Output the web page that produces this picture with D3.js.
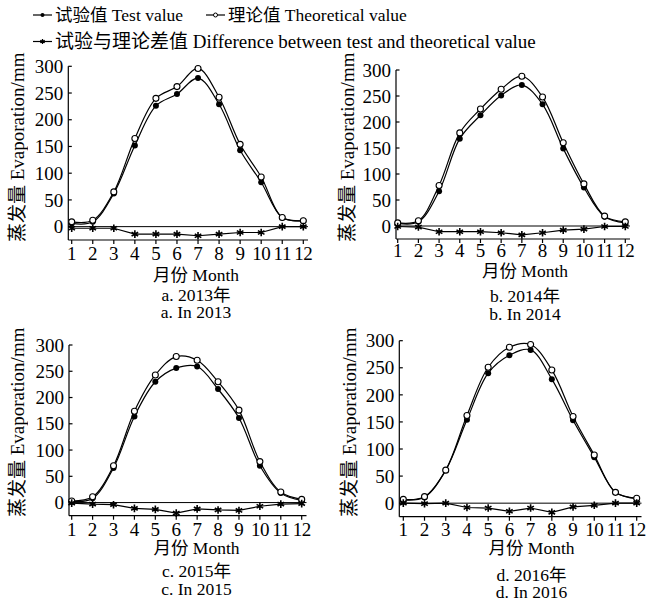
<!DOCTYPE html>
<html><head><meta charset="utf-8">
<script src="https://cdn.jsdelivr.net/npm/d3@7"></script>
<style>
body{margin:0;background:#fff;}
text{font-family:"Liberation Serif","Times New Roman","Noto Sans CJK SC",serif;fill:#000;}
.ylab{opacity:0.99;}
</style></head>
<body><svg id="c" width="646" height="603"></svg>
<script>
const months = [1,2,3,4,5,6,7,8,9,10,11,12];
const yTicks = [0,50,100,150,200,250,300];

const test2013 = [6, 9, 62, 152, 226, 248, 278, 229, 143, 83, 17, 11];
const theo2013 = [9, 12, 65, 165, 240, 262, 296, 242, 154, 93, 17, 11];
const diff2013 = [-3, -3, -3, -14, -14, -14, -17, -14, -11, -11, 0, 0];

const test2014 = [5, 8, 67, 168, 213, 251, 271, 234, 149, 74, 18, 6];
const theo2014 = [6, 10, 78, 179, 225, 263, 288, 248, 160, 81, 19, 8];
const diff2014 = [-1, -2, -11, -11, -11, -13, -17, -13, -8, -6, -1, -1];

const test2015 = [2, 8, 66, 164, 230, 256, 259, 216, 161, 70, 18, 4];
const theo2015 = [3, 11, 70, 174, 243, 278, 271, 230, 176, 78, 20, 6];
const diff2015 = [-1, -3, -4, -11, -13, -20, -12, -14, -15, -7, -3, -2];

const test2016 = [6, 11, 61, 154, 240, 273, 283, 229, 153, 85, 20, 8];
const theo2016 = [7, 12, 61, 162, 251, 288, 293, 246, 160, 89, 20, 9];
const diff2016 = [0, -1, 0, -8, -9, -15, -9, -17, -7, -4, 0, 0];

const captions1 = ["a. 2013年","b. 2014年","c. 2015年","d. 2016年"];
const captions2 = ["a. In 2013","b. In 2014","c. In 2015","d. In 2016"];
const legendLabels = ["试验值 Test value","理论值 Theoretical value","试验与理论差值 Difference between test and theoretical value"];
const yLabel = "蒸发量 Evaporation/mm";
const xLabel = "月份 Month";

const panels = [
  {test:test2013, theo:theo2013, diff:diff2013, left:68.3, right:308, x1:71.7, x12:303.3, top:66.3, bottom:240, cx:196, ylx:17, yly:242, tb:260, t1:281, t2:300.5, t3:318},
  {test:test2014, theo:theo2014, diff:diff2014, left:396, right:630, x1:397.7, x12:625.3, top:70, bottom:239, cx:525, ylx:347, yly:242, tb:257, t1:276.5, t2:302, t3:320},
  {test:test2015, theo:theo2015, diff:diff2015, left:69, right:306.5, x1:71.7, x12:301.7, top:345, bottom:515.7, cx:196.5, ylx:17, yly:517, tb:535.5, t1:554, t2:577, t3:595},
  {test:test2016, theo:theo2016, diff:diff2016, left:399.3, right:641.5, x1:403.3, x12:636.7, top:340.7, bottom:516.7, cx:531.5, ylx:349, yly:517, tb:535.5, t1:554, t2:580.5, t3:598}
];

const svg = d3.select("#c");
const FS = 17.5;
const TFS = 19;
const star = d3.symbol().type(d3.symbolAsterisk).size(40);

panels.forEach((p,i)=>{
  const g = svg.append("g");
  const x = d3.scaleLinear().domain([1,12]).range([p.x1,p.x12]);
  const y = d3.scaleLinear().domain([-25,300]).range([p.bottom,p.top]);

  // y axis
  g.append("line").attr("x1",p.left).attr("x2",p.left).attr("y1",y(300)).attr("y2",p.bottom).attr("stroke","#000").attr("stroke-width",1.2);
  yTicks.forEach(t=>{
    g.append("line").attr("x1",p.left).attr("x2",p.left+3.5).attr("y1",y(t)).attr("y2",y(t)).attr("stroke","#000").attr("stroke-width",1.2);
    g.append("text").attr("x",p.left-5).attr("y",y(t)).attr("dy","0.35em").attr("text-anchor","end").attr("font-size",TFS).text(t);
  });
  // x axis
  g.append("line").attr("x1",p.left).attr("x2",p.right).attr("y1",p.bottom).attr("y2",p.bottom).attr("stroke","#000").attr("stroke-width",1.2);
  months.forEach(m=>{
    g.append("line").attr("x1",x(m)).attr("x2",x(m)).attr("y1",p.bottom).attr("y2",p.bottom+4).attr("stroke","#000").attr("stroke-width",1.2);
    g.append("text").attr("x",x(m)).attr("y",p.tb).attr("text-anchor","middle").attr("font-size",TFS).attr("letter-spacing",m>=10?-0.5:0).text(m);
  });
  // zero line
  g.append("line").attr("x1",p.left).attr("x2",p.right).attr("y1",y(0)).attr("y2",y(0)).attr("stroke","#000").attr("stroke-width",1);

  const smooth = d3.line().x((d,j)=>x(months[j])).y(d=>y(d)).curve(d3.curveCatmullRom.alpha(0.5));
  const lin = d3.line().x((d,j)=>x(months[j])).y(d=>y(d));
  g.append("path").attr("d",smooth(p.theo)).attr("fill","none").attr("stroke","#000").attr("stroke-width",1.2);
  g.append("path").attr("d",smooth(p.test)).attr("fill","none").attr("stroke","#000").attr("stroke-width",1.2);
  g.append("path").attr("d",lin(p.diff)).attr("fill","none").attr("stroke","#000").attr("stroke-width",1.2);

  p.test.forEach((v,j)=>g.append("circle").attr("cx",x(months[j])).attr("cy",y(v)).attr("r",3).attr("fill","#000"));
  p.theo.forEach((v,j)=>g.append("circle").attr("cx",x(months[j])).attr("cy",y(v)).attr("r",3).attr("fill","#fff").attr("stroke","#000").attr("stroke-width",1.1));
  p.diff.forEach((v,j)=>g.append("path").attr("d",star()).attr("transform",`translate(${x(months[j])},${y(v)})`).attr("fill","none").attr("stroke","#000").attr("stroke-width",1.6));

  // labels
  g.append("text").attr("class","ylab").attr("transform",`translate(${p.ylx},${p.yly}) rotate(-90)`).attr("dy","0.35em").attr("text-anchor","start").attr("font-size",19).text(yLabel);
  g.append("text").attr("x",p.cx).attr("y",p.t1).attr("text-anchor","middle").attr("font-size",FS).text(xLabel);
  g.append("text").attr("x",p.cx).attr("y",p.t2).attr("text-anchor","middle").attr("font-size",FS).text(captions1[i]);
  g.append("text").attr("x",p.cx).attr("y",p.t3).attr("text-anchor","middle").attr("font-size",FS).text(captions2[i]);
});

// legend
const legItems = [
  {x:33, y:15, type:"filled", label:legendLabels[0], fs:17.5},
  {x:206, y:15, type:"open", label:legendLabels[1], fs:17.5},
  {x:33, y:41.5, type:"star", label:legendLabels[2], fs:19}
];
legItems.forEach(it=>{
  const g = svg.append("g");
  g.append("line").attr("x1",it.x).attr("x2",it.x+19).attr("y1",it.y).attr("y2",it.y).attr("stroke","#000").attr("stroke-width",1.2);
  const cx = it.x+9.5;
  if(it.type==="filled") g.append("circle").attr("cx",cx).attr("cy",it.y).attr("r",2).attr("fill","#000");
  else if(it.type==="open") g.append("circle").attr("cx",cx).attr("cy",it.y).attr("r",2).attr("fill","#fff").attr("stroke","#000");
  else g.append("path").attr("d",d3.symbol().type(d3.symbolAsterisk).size(18)()).attr("transform",`translate(${cx},${it.y})`).attr("fill","none").attr("stroke","#000").attr("stroke-width",1.3);
  g.append("text").attr("x",it.x+22).attr("y",it.y+6).attr("font-size",it.fs).text(it.label);
});
</script></body></html>
